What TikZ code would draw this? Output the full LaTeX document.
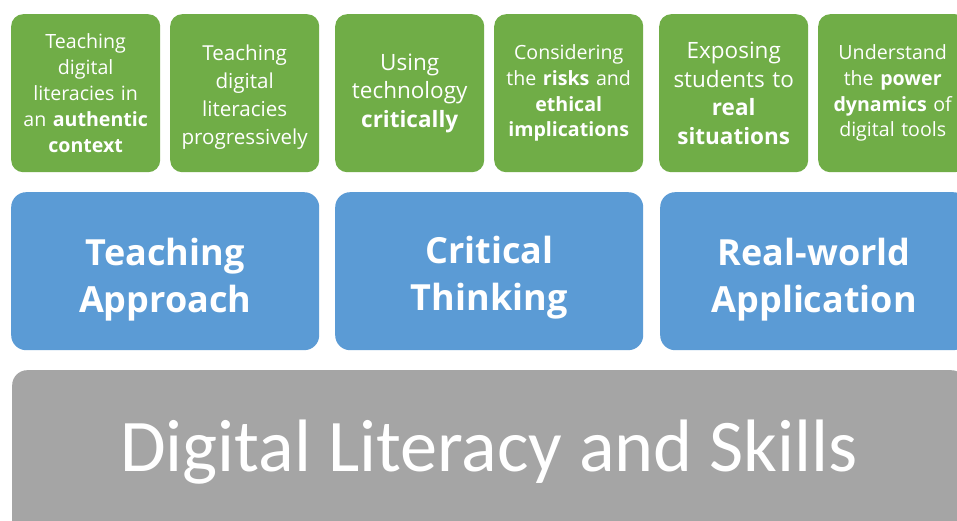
\documentclass[tikz,border=0pt]{standalone}
\usepackage{fontspec}
\setmainfont{Open Sans}
\newfontfamily\basefont{Carlito}
\definecolor{leafgreen}{HTML}{70AD47}
\definecolor{skyblue}{HTML}{5B9BD5}
\definecolor{stonegray}{HTML}{A5A5A5}
\begin{document}
\begin{tikzpicture}[x=1pt,y=-1pt,
  tile/.style={fill=leafgreen, draw=none, rounded corners=12pt, anchor=north west,
    minimum width=149pt, minimum height=158pt, inner sep=0pt,
    text=white, align=center, text width=147pt},
  tiletext/.style={text=white, align=center, inner sep=0pt},
  pillar/.style={fill=skyblue, draw=none, rounded corners=15pt, anchor=north west,
    minimum width=308pt, minimum height=158pt, inner sep=0pt},
  pillartext/.style={text=white, align=center, inner sep=0pt,
    font=\bfseries\fontsize{36}{47}\selectfont},
  smallt/.style={font=\fontsize{19.6}{25.8}\selectfont},
  larget/.style={font=\fontsize{22.5}{28.5}\selectfont},
  midt/.style={font=\fontsize{20.6}{28}\selectfont}]
\useasboundingbox (0,0) rectangle (957,521);
\clip (0,0) rectangle (957,521);
\fill[white] (0,0) rectangle (957,521);

% top row: practices
\node[tile, smallt] (t1) at (11,14) {Teaching\\digital\\literacies in\\an \textbf{authentic}\\\textbf{context}};
\node[tile] (t2) at (170,14) {};
\node[tiletext, midt] (t2t) at ([yshift=-4pt]t2.center) {Teaching\\digital\\literacies\\progressively};
\node[tile, larget] (t3) at (335,14) {Using\\technology\\\textbf{critically}};
\node[tile, smallt] (t4) at (494,14) {Considering\\the \textbf{risks} and\\\textbf{ethical}\\\textbf{implications}};
\node[tile, larget] (t5) at (659,14) {Exposing\\students to\\\textbf{real}\\\textbf{situations}};
\node[tile, smallt] (t6) at (818,14) {Understand\\the \textbf{power}\\\textbf{dynamics} of\\digital tools};

% middle row: pillars
\node[pillar] (p1) at (11,192) {};
\node[pillar] (p2) at (335,192) {};
\node[pillar] (p3) at (660,192) {};
\node[pillartext] (p1t) at ([yshift=-8pt]p1.center) {Teaching\\Approach};
\node[pillartext] (p2t) at ([yshift=-6pt]p2.center) {Critical\\Thinking};
\node[pillartext] (p3t) at ([yshift=-8pt]p3.center) {Real-world\\Application};

% foundation
\node[fill=stonegray, draw=none, rounded corners=15pt, anchor=north west,
  minimum width=954pt, minimum height=180pt, inner sep=0pt] (base) at (12,370) {};
\node[text=white, font=\basefont\fontsize{74.3}{80}\selectfont, anchor=base] (basetext) at (489,471) {Digital Literacy and Skills};
\end{tikzpicture}
\end{document}
